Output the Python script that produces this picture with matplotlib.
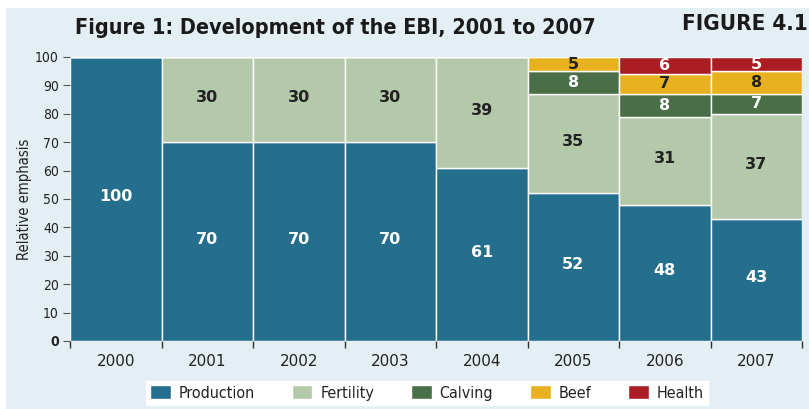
import matplotlib.pyplot as plt
from matplotlib.patches import Rectangle
import numpy as np

years = ["2000", "2001", "2002", "2003", "2004", "2005", "2006", "2007"]
production = [100, 70, 70, 70, 61, 52, 48, 43]
fertility = [0, 30, 30, 30, 39, 35, 31, 37]
calving = [0, 0, 0, 0, 0, 8, 8, 7]
beef = [0, 0, 0, 0, 0, 5, 7, 8]
health = [0, 0, 0, 0, 0, 0, 6, 5]

series = [("Production", production, "#246e8e", "white"),
          ("Fertility", fertility, "#b3c9a9", "#222222"),
          ("Calving", calving, "#4a6e47", "white"),
          ("Beef", beef, "#e8b11f", "#222222"),
          ("Health", health, "#ab1c23", "white")]

BG = "#e3eef5"


def main():
    fig = plt.figure(figsize=(8.09, 4.09), dpi=100, facecolor="white")
    fig.patches.append(Rectangle((6 / 809, 0), 1, 1 - 8 / 409, transform=fig.transFigure,
                                 facecolor=BG, edgecolor="none", zorder=-10))
    ax = fig.add_axes([70 / 809, 68 / 409, 732 / 809, 284 / 409])
    ax.set_facecolor(BG)

    x = np.arange(len(years))
    bottom = np.zeros(len(years))
    for name, vals, color, tcolor in series:
        vals = np.array(vals)
        ax.bar(x, vals, width=1.0, bottom=bottom, color=color, edgecolor="white",
               linewidth=1.0, label=name)
        for xi, v, b in zip(x, vals, bottom):
            if v > 0:
                shift = 0.8 if v > 20 else 0
                ax.text(xi, b + v / 2 + shift, str(v), ha="center", va="center",
                        color=tcolor, fontsize=11.5, fontweight="bold", family="DejaVu Sans")
        bottom += vals

    ax.set_xlim(-0.5, len(years) - 0.5)
    ax.set_ylim(0, 100)
    for s in ax.spines.values():
        s.set_visible(False)

    ax.set_xticks(x)
    ax.set_xticklabels(years, fontsize=11, family="DejaVu Sans", color="#222222")
    ax.set_xticks(np.arange(-0.5, len(years)), minor=True)
    ax.tick_params(axis="x", which="major", length=0, pad=9)
    ax.tick_params(axis="x", which="minor", length=5, color="#333333", width=1)

    ax.set_yticks(range(0, 101, 10))
    ylabels = ax.set_yticklabels([str(v) for v in range(0, 101, 10)], fontsize=10,
                                 family="DejaVu Sans", fontstretch="condensed", color="#222222")
    ylabels[0].set_fontweight("bold")
    ax.tick_params(axis="y", length=5, color="#555555", width=0.8, pad=3)
    ax.set_ylabel("Relative emphasis", fontsize=10.5, fontstretch="condensed", color="#222222",
                  labelpad=2)

    fig.text(75 / 809, 1 - 28 / 409, "Figure 1: Development of the EBI, 2001 to 2007",
             fontsize=15.5, fontweight="bold", color="#1a1a1a", va="center", ha="left",
             family="DejaVu Sans", fontstretch="condensed")
    fig.text(808 / 809, 1 - 24 / 409, "FIGURE 4.1", fontsize=16, fontweight="bold",
             color="#1a1a1a", va="center", ha="right", family="DejaVu Sans",
             fontstretch="condensed")

    leg = fig.legend(loc="center", bbox_to_anchor=(427 / 809, 1 - 393 / 409), ncol=5,
                     frameon=True, fancybox=False, edgecolor="white", facecolor="white",
                     prop={"family": "DejaVu Sans", "stretch": "condensed", "size": 11.5},
                     handlelength=1.3, handleheight=1.0, columnspacing=2.3,
                     handletextpad=0.5, borderpad=0.25, framealpha=1)
    for t in leg.get_texts():
        t.set_color("#222222")

    plt.savefig("out.png", dpi=100, facecolor=fig.get_facecolor())


if __name__ == "__main__":
    main()
